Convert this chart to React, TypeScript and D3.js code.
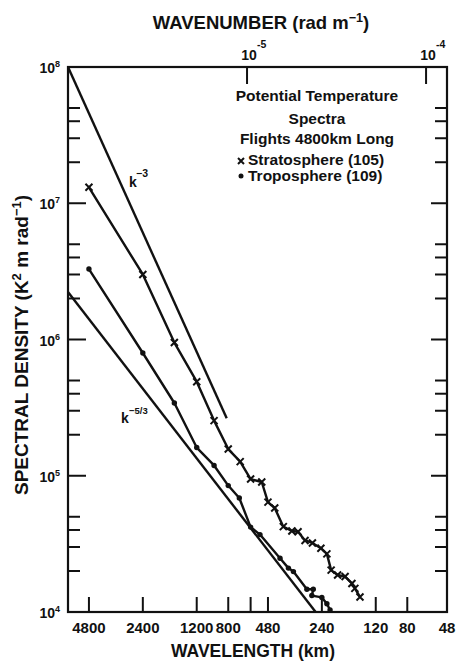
import React from "react";
import * as d3 from "d3";

// ---- axis tick values ----
const wavelengthTicks = [4800, 2400, 1200, 800, 600, 480, 240, 120, 80, 48];
const wavelengthLabels = [4800, 2400, 1200, 800, 480, 240, 120, 80, 48];
const wavenumberTicks = [1e-5, 1e-4];
const wavenumberExps = ["-5", "-4"];
const densityDecades = [1e4, 1e5, 1e6, 1e7, 1e8];
const densityExps = ["4", "5", "6", "7", "8"];
const minorMultipliers = [2, 3, 4, 5];

// ---- data (wavelength km, spectral density K^2 m rad^-1) ----
const stratoLambda = [4800, 2400, 1600, 1200, 960, 800, 686, 600, 520, 480, 440, 394, 353, 326, 298, 271, 243, 225, 213, 196, 178, 163, 157, 147];
const stratoDensity = [1.31e7, 3.0e6, 9.5e5, 4.9e5, 2.54e5, 1.57e5, 1.27e5, 9.46e4, 9.0e4, 6.4e4, 5.8e4, 4.23e4, 3.93e4, 3.88e4, 3.35e4, 3.21e4, 2.94e4, 2.67e4, 2.03e4, 1.87e4, 1.82e4, 1.62e4, 1.49e4, 1.29e4];

const tropoLambda = [4800, 2400, 1600, 1200, 960, 800, 694, 600, 532, 411, 369, 346, 291, 268, 273, 240, 225, 216];
const tropoDensity = [3.29e6, 7.96e5, 3.42e5, 1.61e5, 1.19e5, 8.47e4, 6.87e4, 4.2e4, 3.7e4, 2.48e4, 2.1e4, 1.98e4, 1.47e4, 1.47e4, 1.32e4, 1.28e4, 1.15e4, 1.035e4];

const kMinus3Lambda = [6283, 816];
const kMinus3Density = [1e8, 2.64e5];
const kMinus53Lambda = [6283, 260];
const kMinus53Density = [2.23e6, 1e4];

const W = 457, H = 661;
const L = 68, R = 447, T = 67, B = 612;
const INK = "#111";
const SANS = "'Liberation Sans', Arial, sans-serif";

export default function App() {
  const x = d3.scaleLog().domain([2 * Math.PI * 1000, 48]).range([L, R]);
  const kx = d3.scaleLog().domain([1e-6, (2 * Math.PI) / 48000]).range([L, R]);
  const y = d3.scaleLog().domain([1e4, 1e8]).range([B, T]);
  const line = d3.line<[number, number]>().x((d) => x(d[0])).y((d) => y(d[1]));

  const strato = d3.zip(stratoLambda, stratoDensity) as [number, number][];
  const tropo = d3.zip(tropoLambda, tropoDensity) as [number, number][];
  const k3 = d3.zip(kMinus3Lambda, kMinus3Density) as [number, number][];
  const k53 = d3.zip(kMinus53Lambda, kMinus53Density) as [number, number][];

  const minors: number[] = [];
  densityDecades.slice(0, -1).forEach((d) => minorMultipliers.forEach((m) => minors.push(d * m)));

  return (
    <svg width={W} height={H} style={{ position: "absolute", left: 0, top: 0, display: "block", background: "#fff" }}>
      <rect x={0} y={0} width={W} height={H} fill="#fff" />
      {/* frame */}
      <rect x={L} y={T} width={R - L} height={B - T} fill="none" stroke={INK} strokeWidth={2.2} />

      {/* left & right ticks */}
      {densityDecades.map((d) => (
        <g key={"maj" + d}>
          <line x1={L} x2={L + 18} y1={y(d)} y2={y(d)} stroke={INK} strokeWidth={2} />
          <line x1={R} x2={R - 16} y1={y(d)} y2={y(d)} stroke={INK} strokeWidth={2} />
        </g>
      ))}
      {minors.map((d) => (
        <g key={"min" + d}>
          <line x1={L} x2={L + 12} y1={y(d)} y2={y(d)} stroke={INK} strokeWidth={2} />
          <line x1={R} x2={R - 12} y1={y(d)} y2={y(d)} stroke={INK} strokeWidth={2} />
        </g>
      ))}
      {/* left tick labels */}
      {densityDecades.map((d, i) => (
        <text key={"yl" + d} x={60} y={y(d) + 6} textAnchor="end" fontFamily={SANS} fontWeight="bold" fontSize={14} fill={INK}>
          10
          <tspan dy={-6} fontSize={9}>{densityExps[i]}</tspan>
        </text>
      ))}

      {/* bottom ticks */}
      {wavelengthTicks.map((w) => (
        <line key={"bt" + w} x1={x(w)} x2={x(w)} y1={B} y2={B - 15} stroke={INK} strokeWidth={2} />
      ))}
      {wavelengthLabels.map((w) => (
        <text key={"bl" + w} x={x(w)} y={633} textAnchor="middle" fontFamily={SANS} fontWeight="bold" fontSize={15} fill={INK}>
          {w}
        </text>
      ))}

      {/* top ticks */}
      {wavenumberTicks.map((k, i) => (
        <g key={"tt" + k}>
          <line x1={kx(k)} x2={kx(k)} y1={T} y2={T + 17} stroke={INK} strokeWidth={2} />
          <text x={kx(k) + 2} y={60} textAnchor="middle" fontFamily={SANS} fontWeight="bold" fontSize={14} fill={INK}>
            10
          </text>
          <text x={kx(k) + 10} y={48} textAnchor="start" fontFamily={SANS} fontWeight="bold" fontSize={10.5} fill={INK}>
            {wavenumberExps[i]}
          </text>
        </g>
      ))}

      {/* reference lines */}
      <path d={line(k3) || ""} fill="none" stroke={INK} strokeWidth={2.4} />
      <path d={line(k53) || ""} fill="none" stroke={INK} strokeWidth={2.4} />

      {/* data lines */}
      <path d={line(strato) || ""} fill="none" stroke={INK} strokeWidth={2.4} strokeLinejoin="round" />
      <path d={line(tropo) || ""} fill="none" stroke={INK} strokeWidth={2.4} strokeLinejoin="round" />
      {strato.map((d, i) => (
        <path key={"sx" + i} transform={`translate(${x(d[0])},${y(d[1])})`} d="M-3.5,-3.5L3.5,3.5M-3.5,3.5L3.5,-3.5" stroke={INK} strokeWidth={2} />
      ))}
      {tropo.map((d, i) => (
        <circle key={"tc" + i} cx={x(d[0])} cy={y(d[1])} r={2.7} fill={INK} />
      ))}

      {/* slope labels */}
      <text x={129} y={187} fontFamily={SANS} fontWeight="bold" fontSize={14} fill={INK}>k</text>
      <text x={136} y={177} fontFamily={SANS} fontWeight="bold" fontSize={10.5} fill={INK}>−3</text>
      <text x={121} y={423} fontFamily={SANS} fontWeight="bold" fontSize={14} fill={INK}>k</text>
      <text x={129} y={414} fontFamily={SANS} fontWeight="bold" fontSize={9.5} fill={INK}>−5/3</text>

      {/* legend */}
      <g fontFamily={SANS} fontWeight="bold" fontSize={15.5} fill={INK}>
        <text x={317} y={101} textAnchor="middle">Potential Temperature</text>
        <text x={317} y={124} textAnchor="middle">Spectra</text>
        <text x={317} y={144} textAnchor="middle">Flights 4800km Long</text>
        <text x={248} y={165}>Stratosphere (105)</text>
        <text x={248} y={181}>Troposphere (109)</text>
      </g>
      <path transform="translate(241,161)" d="M-3,-3L3,3M-3,3L3,-3" stroke={INK} strokeWidth={2} />
      <circle cx={241} cy={176} r={2.5} fill={INK} />

      {/* axis titles */}
      <text x={261} y={29} textAnchor="middle" fontFamily={SANS} fontWeight="bold" fontSize={18.5} fill={INK}>
        WAVENUMBER (rad m<tspan dy={-7} fontSize={12.5}>−1</tspan><tspan dy={7}>)</tspan>
      </text>
      <text x={253} y={657} textAnchor="middle" fontFamily={SANS} fontWeight="bold" fontSize={17.5} fill={INK}>
        WAVELENGTH (km)
      </text>
      <text transform="translate(28,345) rotate(-90)" textAnchor="middle" fontFamily={SANS} fontWeight="bold" fontSize={19} fill={INK}>
        SPECTRAL DENSITY (K<tspan dy={-7} fontSize={13}>2</tspan><tspan dy={7}> m rad</tspan><tspan dy={-7} fontSize={13}>−1</tspan><tspan dy={7}>)</tspan>
      </text>
    </svg>
  );
}
